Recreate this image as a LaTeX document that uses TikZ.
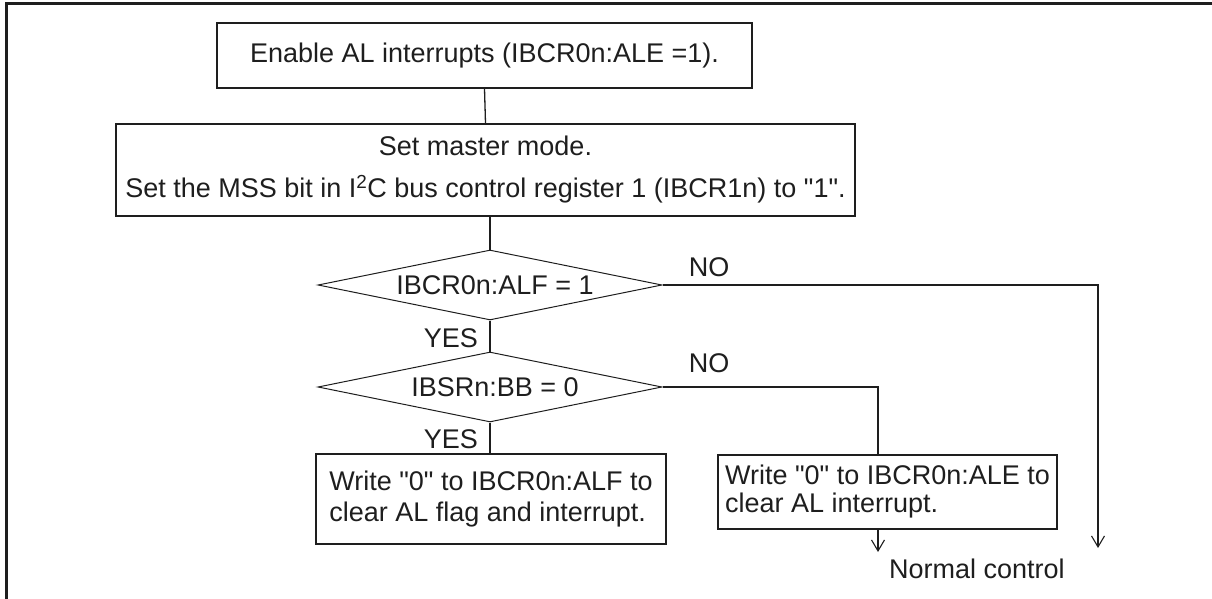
\documentclass[tikz,border=0pt]{standalone}
\usepackage{fontspec}
\setmainfont{Liberation Sans}[Ligatures=TeXOff]
\usetikzlibrary{shapes.geometric,arrows.meta}
\definecolor{ink}{HTML}{1E1E1E}
\begin{document}
\begin{tikzpicture}[x=1pt,y=-1pt,
  every node/.style={text=ink},
  lbl/.style={font=\fontsize{27}{31}\selectfont, inner sep=0pt},
  procbox/.style={draw=ink, line width=1.6pt, rectangle, inner sep=0pt,
    font=\fontsize{27}{31}\selectfont},
  decision/.style={draw=ink, line width=1pt, diamond, aspect=4.9, inner sep=0pt,
    minimum width=344pt, minimum height=70pt, font=\fontsize{27}{31}\selectfont},
  conn/.style={draw=ink, line width=1.3pt},
  arr/.style={conn, -{Straight Barb[length=11pt,width=13pt,line width=1.1pt]}}
]
\useasboundingbox (0,0) rectangle (1212,599);
% outer frame
\draw[ink, line width=3pt] (6,599) -- (6,4) -- (1212,4);

\node[procbox, minimum width=535pt, minimum height=65pt] (b1) at (484.5,55.5)
  {Enable AL interrupts (IBCR0n:ALE =1).};
\node[procbox, minimum width=739pt, minimum height=92pt, align=center,
  font=\fontsize{27}{42}\selectfont] (b2) at (485.5,170)
  {Set master mode.\\Set the MSS bit in I\textsuperscript{2}C bus control register 1 (IBCR1n) to "1".};
\node[decision] (d1) at (490,285) {\hspace*{10pt}IBCR0n:ALF = 1};
\node[decision] (d2) at (490,387) {\hspace*{10pt}IBSRn:BB = 0};
\node[procbox, minimum width=350pt, minimum height=90pt, align=left] (b3) at (491,499)
  {Write "0" to IBCR0n:ALF to\\clear AL flag and interrupt.};
\node[procbox, minimum width=339pt, minimum height=74pt, align=left,
  font=\fontsize{27}{28}\selectfont] (b4) at (887.5,492)
  {Write "0" to IBCR0n:ALE to\\clear AL interrupt.};

\coordinate (r1) at (1098,285);
\coordinate (r2) at (1098,548);
\coordinate (j) at (878,387);
\coordinate (e1) at (878,552);

\draw[conn] (b1.south) -- (b2.north);
\draw[conn] (b2.south -| d1.north) -- (d1.north);
\draw[conn] (d1.south) -- (d2.north);
\draw[conn] (d2.south) -- (b3.north -| d2.south);
\draw[arr] (d1.east) -- (r1) -- (r2);
\draw[conn] (d2.east) -- (j) -- (j |- b4.north);
\draw[arr] (j |- b4.south) -- (e1);

\node[lbl] (no1) at (709,267) {NO};
\node[lbl] (no2) at (709,363) {NO};
\node[lbl, anchor=east] (yes1) at (478,338) {YES};
\node[lbl, anchor=east] (yes2) at (478,439) {YES};
\node[lbl, anchor=west] (nc) at (889,569) {Normal control};
\end{tikzpicture}
\end{document}
